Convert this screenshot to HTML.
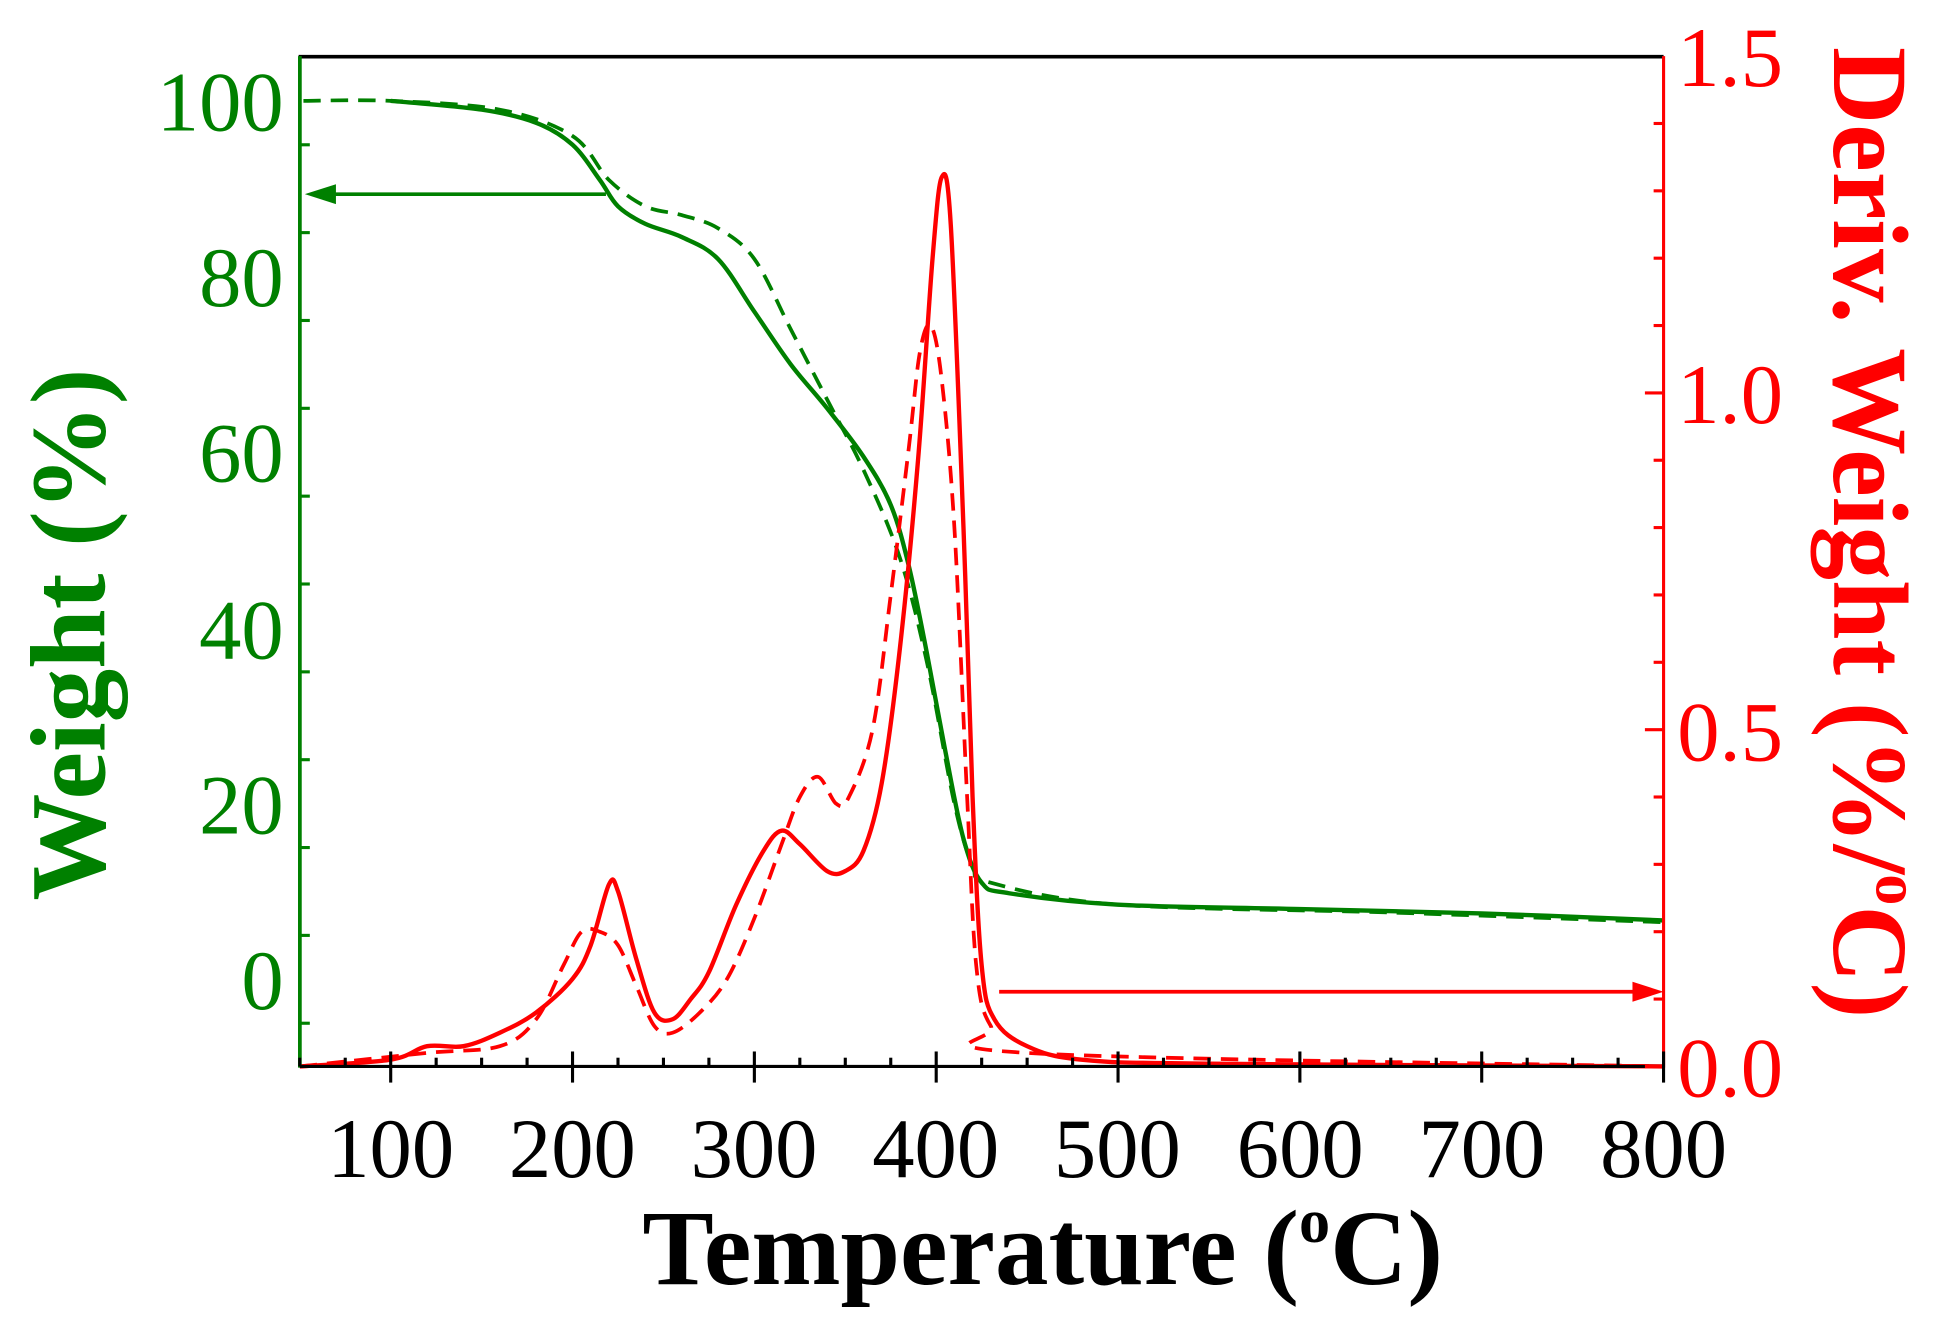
<!DOCTYPE html>
<html><head><meta charset="utf-8"><style>
html,body{margin:0;padding:0;background:#fff;}
svg{display:block;}
text{font-family:"Liberation Serif",serif;}
</style></head><body>
<svg id="s" width="1951" height="1334" viewBox="0 0 1568 1072" xmlns="http://www.w3.org/2000/svg">
<rect width="1568" height="1072" fill="#fff"/>
<g id="g"></g>
<line x1="240" y1="45.5" x2="1337" y2="45.5" stroke="#000" stroke-width="3"/>
<line x1="241" y1="45" x2="241" y2="858" stroke="#008000" stroke-width="3"/>
<line x1="1337" y1="45" x2="1337" y2="858" stroke="#ff0000" stroke-width="2.5"/>
<line x1="241" y1="857" x2="1337" y2="857" stroke="#000" stroke-width="2.5"/>
<g id="ticks"></g>
<g fill="#008000" font-size="68" text-anchor="end">
<text x="228" y="105">100</text><text x="228" y="246">80</text><text x="228" y="387">60</text>
<text x="228" y="529">40</text><text x="228" y="670">20</text><text x="228" y="811">0</text>
</g>
<g fill="#ff0000" font-size="68" text-anchor="start">
<text x="1348" y="69">1.5</text><text x="1348" y="340">1.0</text><text x="1348" y="611">0.5</text><text x="1348" y="881">0.0</text>
</g>
<g fill="#000" font-size="68" text-anchor="middle">
<text x="314" y="946">100</text><text x="460" y="946">200</text><text x="606" y="946">300</text><text x="752" y="946">400</text>
<text x="898" y="946">500</text><text x="1045" y="946">600</text><text x="1191" y="946">700</text><text x="1337" y="946">800</text>
</g>
<text x="838" y="1032" font-size="86" font-weight="bold" text-anchor="middle" fill="#000">Temperature (<tspan font-size="50" dy="-34">o</tspan><tspan dy="34">C)</tspan></text>
<text transform="translate(84,510) rotate(-90)" font-size="86" font-weight="bold" text-anchor="middle" fill="#008000">Weight (%)</text>
<text transform="translate(1474,428) rotate(90)" font-size="86" font-weight="bold" text-anchor="middle" fill="#ff0000">Deriv. Weight (%/<tspan font-size="50" dy="-34">o</tspan><tspan dy="34">C)</tspan></text>
<line x1="487" y1="156" x2="262" y2="156" stroke="#008000" stroke-width="3"/>
<polygon points="245,156 270,148 270,164" fill="#008000"/>
<line x1="803" y1="797" x2="1318" y2="797" stroke="#ff0000" stroke-width="3"/>
<polygon points="1337,797 1312,789 1312,805" fill="#ff0000"/>
</svg>
<script>
const X=t=>314+(t-100)*1.4614, YL=w=>787-w*7.06, YR=d=>857-d*541.3;
function path(pts,fy){const p=pts.map(a=>[X(a[0]),fy(a[1])]);let d="M"+p[0][0]+","+p[0][1];
for(let i=0;i<p.length-1;i++){const p0=p[i-1]||p[i],p1=p[i],p2=p[i+1],p3=p[i+2]||p2;
d+=` C${p1[0]+(p2[0]-p0[0])/6},${p1[1]+(p2[1]-p0[1])/6} ${p2[0]-(p3[0]-p1[0])/6},${p2[1]-(p3[1]-p1[1])/6} ${p2[0]},${p2[1]}`;}return d;}
const ws=[[100,100],[150,99],[180,97.5],[200,95],[215,91],[225,88],[240,86],[260,84.5],[280,82],[300,76],[320,70],[340,65],[360,59.5],[375,54],[385,47],[395,37],[405,26],[415,16],[425,11],[440,9.8],[500,8.5],[600,8],[700,7.5],[800,6.7]];
const wd=[[52,100],[100,100],[160,99],[200,96],[220,91],[240,88],[260,87],[280,85.5],[300,82],[320,74],[340,66],[360,58],[380,48],[395,36],[410,20],[420,13],[430,11],[500,8.5],[650,7.6],[800,6.5]];
const ds=[[50,0],[100,0.01],[120,0.03],[140,0.03],[160,0.05],[180,0.08],[200,0.13],[210,0.18],[220,0.27],[225,0.26],[235,0.16],[245,0.08],[255,0.07],[265,0.1],[275,0.14],[290,0.24],[305,0.32],[315,0.35],[325,0.33],[340,0.29],[350,0.29],[360,0.32],[370,0.42],[380,0.62],[390,0.9],[398,1.2],[403,1.32],[408,1.25],[415,0.8],[420,0.4],[425,0.15],[432,0.07],[450,0.03],[480,0.01],[550,0.004],[800,0]];
const dd=[[50,0],[120,0.02],[160,0.03],[180,0.07],[195,0.15],[205,0.2],[215,0.2],[225,0.18],[235,0.12],[245,0.06],[255,0.05],[270,0.08],[285,0.13],[300,0.22],[315,0.33],[325,0.4],[335,0.43],[345,0.39],[352,0.4],[365,0.5],[375,0.7],[385,0.92],[391,1.06],[397,1.1],[403,1.02],[410,0.8],[417,0.4],[422,0.15],[430,0.06],[450,0.02],[800,0]];
let h="";
h+=`<path d="${path(wd,YL)}" fill="none" stroke="#008000" stroke-width="3" stroke-dasharray="14,8"/>`;
h+=`<path d="${path(ws,YL)}" fill="none" stroke="#008000" stroke-width="3.5"/>`;
h+=`<path d="${path(dd,YR)}" fill="none" stroke="#ff0000" stroke-width="3" stroke-dasharray="14,8"/>`;
h+=`<path d="${path(ds,YR)}" fill="none" stroke="#ff0000" stroke-width="3.5"/>`;
document.getElementById("g").innerHTML=h;
let t="";
for(let w=-5;w<=100;w+=10){const y=YL(w);const maj=w%20==0;t+=`<line x1="${maj?226:241}" y1="${y}" x2="${maj?256:249}" y2="${y}" stroke="#008000" stroke-width="2.5"/>`;}
for(let d=0;d<=1.5;d+=0.1){const y=YR(d);const maj=Math.abs(d*2-Math.round(d*2))<1e-6;t+=`<line x1="${maj?1322:1329}" y1="${y}" x2="1337" y2="${y}" stroke="#ff0000" stroke-width="2.5"/>`;}
for(let x=50;x<=800;x+=25){const px=X(x);const maj=x%100==0;t+=`<line x1="${px}" y1="${maj?845:850}" x2="${px}" y2="${maj?870:857}" stroke="#000" stroke-width="2.5"/>`;}
document.getElementById("ticks").innerHTML=t;
</script>
</body></html>
